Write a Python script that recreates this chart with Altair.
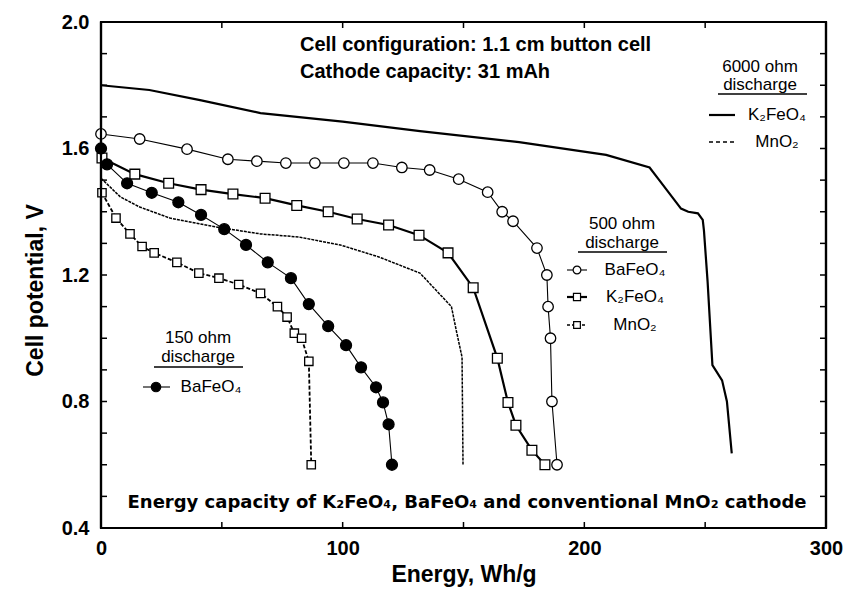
import altair as alt
import pandas as pd

# ---- discharge curves: energy (Wh/g) vs cell potential (V) ----
# 6000 ohm discharge
k6_x = [0, 20, 41, 66, 100, 132, 173, 209, 227, 231, 237, 240, 243, 247, 249, 249.5, 251, 253, 257, 259, 261]
k6_v = [1.80, 1.785, 1.753, 1.712, 1.685, 1.655, 1.62, 1.58, 1.54, 1.50, 1.44, 1.41, 1.40, 1.395, 1.374, 1.34, 1.18, 0.915, 0.867, 0.80, 0.636]

m6_x = [0, 8, 16, 28.5, 49, 66, 82, 99, 115, 132, 145, 147, 149.4, 149.8]
m6_v = [1.506, 1.447, 1.415, 1.38, 1.35, 1.33, 1.32, 1.295, 1.257, 1.206, 1.10, 1.025, 0.94, 0.60]

# 500 ohm discharge
b5_x = [0, 16, 35.6, 52.5, 64.5, 76.5, 88.5, 100.5, 112.5, 124.5, 136, 148, 160, 166, 170.5, 180.4, 184.5, 185, 186, 186.6, 188.7]
b5_v = [1.646, 1.63, 1.598, 1.566, 1.56, 1.554, 1.554, 1.554, 1.554, 1.54, 1.532, 1.503, 1.462, 1.40, 1.37, 1.285, 1.20, 1.10, 1.00, 0.80, 0.60]

k5_x = [0.4, 14, 28, 41.4, 54.6, 67.9, 81, 94, 106, 119, 131.6, 143.6, 154, 164, 168.4, 171.7, 178.3, 183.7]
k5_v = [1.57, 1.519, 1.49, 1.47, 1.456, 1.443, 1.42, 1.40, 1.377, 1.358, 1.326, 1.27, 1.16, 0.937, 0.797, 0.725, 0.646, 0.60]

m5_x = [0.4, 6.2, 12, 17, 22, 31.4, 40.5, 48.8, 57, 66, 73, 77, 80, 83, 86, 87]
m5_v = [1.46, 1.38, 1.33, 1.29, 1.27, 1.24, 1.206, 1.19, 1.17, 1.142, 1.10, 1.067, 1.016, 1.0, 0.927, 0.60]

# 150 ohm discharge
b1_x = [0, 2.5, 10.8, 21, 32, 41.4, 51, 60, 69, 78.6, 86, 94, 101.4, 107.6, 113.8, 116.7, 119, 120.4]
b1_v = [1.60, 1.55, 1.49, 1.46, 1.43, 1.39, 1.345, 1.295, 1.24, 1.19, 1.108, 1.038, 0.978, 0.908, 0.845, 0.797, 0.728, 0.60]

# axis tick positions
x_labels = [0, 100, 200, 300]
x_minor = [50, 100, 150, 200, 250]
y_labels = [0.4, 0.8, 1.2, 1.6, 2.0]
y_minor = [0.5, 0.6, 0.7, 0.8, 0.9, 1.0, 1.1, 1.2, 1.3, 1.4, 1.5, 1.6, 1.7, 1.8, 1.9]

W, H = 725, 506
FONT = "Liberation Sans"


def frame(xs, vs):
    return pd.DataFrame({"energy": xs, "potential": vs, "idx": list(range(len(xs)))})


X = alt.X("energy:Q",
          scale=alt.Scale(domain=[0, 300], nice=False, zero=False),
          axis=alt.Axis(values=x_labels, title="Energy, Wh/g", labelPadding=10,
                        titlePadding=5, labelFlush=False))
Y = alt.Y("potential:Q",
          scale=alt.Scale(domain=[0.4, 2.0], nice=False, zero=False),
          axis=alt.Axis(values=y_labels, format=".1f", title="Cell potential, V",
                        labelPadding=12, titlePadding=14, labelFlush=False, titleY=268))


def curve(xs, vs, width, dash=None, color="black"):
    props = dict(color=color, strokeWidth=width)
    if dash:
        props["strokeDash"] = dash
    return alt.Chart(frame(xs, vs)).mark_line(**props).encode(x=X, y=Y, order="idx:Q")


def markers(xs, vs, shape, size, filled):
    return alt.Chart(frame(xs, vs)).mark_point(
        shape=shape, size=size, filled=True,
        fill="black" if filled else "white", stroke="black", strokeWidth=1.3, opacity=1
    ).encode(x=X, y=Y)


layers = [
    curve(k6_x, k6_v, 2.2),
    curve(m6_x, m6_v, 1.5, [3, 1]),
    curve(b5_x, b5_v, 1.1),
    curve(k5_x, k5_v, 2.2),
    curve(m5_x, m5_v, 1.8, [4, 2]),
    curve(b1_x, b1_v, 1.1),
    markers(b5_x, b5_v, "circle", 110, False),
    markers(k5_x, k5_v, "square", 95, False),
    markers(m5_x, m5_v, "square", 70, False),
    markers(b1_x, b1_v, "circle", 120, True),
]

# inward tick marks on all four sides
tx = pd.DataFrame({"energy": x_minor})
ty = pd.DataFrame({"potential": y_minor})
layers += [
    alt.Chart(tx).mark_rule(color="black", strokeWidth=1.5).encode(x=X, y=alt.value(H), y2=alt.value(H - 6)),
    alt.Chart(tx).mark_rule(color="black", strokeWidth=1.5).encode(x=X, y=alt.value(0), y2=alt.value(6)),
    alt.Chart(ty).mark_rule(color="black", strokeWidth=1.5).encode(y=Y, x=alt.value(0), x2=alt.value(6)),
    alt.Chart(ty).mark_rule(color="black", strokeWidth=1.5).encode(y=Y, x=alt.value(W), x2=alt.value(W - 6)),
]

one = pd.DataFrame({"a": [0]})


def label(text, x, y, size=17, weight="normal", align="center", font=FONT):
    return alt.Chart(one).mark_text(
        text=text, font=font, fontSize=size, fontWeight=weight, align=align,
        baseline="middle", color="black"
    ).encode(x=alt.value(x), y=alt.value(y))


def hline(x1, x2, y, width=1.3, dash=None):
    props = dict(color="black", strokeWidth=width)
    if dash:
        props["strokeDash"] = dash
    return alt.Chart(one).mark_rule(**props).encode(x=alt.value(x1), x2=alt.value(x2), y=alt.value(y))


def vline(x, y1, y2, width=2.2):
    return alt.Chart(one).mark_rule(color="black", strokeWidth=width).encode(
        x=alt.value(x), y=alt.value(y1), y2=alt.value(y2))


def symbol(shape, x, y, size, filled):
    return alt.Chart(one).mark_point(
        shape=shape, size=size, filled=True,
        fill="black" if filled else "white", stroke="black", strokeWidth=1.2, opacity=1
    ).encode(x=alt.value(x), y=alt.value(y))


# plot frame
layers += [
    hline(-1, W + 1, 0, width=2.2),
    hline(-1, W + 1, H, width=2.2),
    vline(0, 0, H),
    vline(W, 0, H),
]

# annotations
layers += [
    label("Cell configuration: 1.1 cm button cell", 199, 23, size=20, weight="bold", align="left"),
    label("Cathode capacity: 31 mAh", 199, 50, size=20, weight="bold", align="left"),
    label("Energy capacity of K\u2082FeO\u2084, BaFeO\u2084 and conventional MnO\u2082  cathode",
          366, 481, size=18, weight="bold", font="DejaVu Sans"),
]

# 6000 ohm legend
layers += [
    label("6000 ohm", 659, 45),
    label("discharge", 659, 63),
    hline(617, 706, 72),
    hline(608, 634, 93, width=2.2),
    label("K\u2082FeO\u2084", 676, 93),
    hline(608, 634, 120, width=1.6, dash=[4, 3]),
    label("MnO\u2082", 676, 120),
]

# 500 ohm legend
layers += [
    label("500 ohm", 521, 202),
    label("discharge", 521, 221),
    hline(477, 566, 230),
    hline(466, 486, 248, width=1.1),
    symbol("circle", 476, 248, 60, False),
    label("BaFeO\u2084", 534, 248),
    hline(466, 486, 275, width=2.2),
    symbol("square", 476, 275, 50, False),
    label("K\u2082FeO\u2084", 534, 275),
    hline(466, 486, 303, width=1.6, dash=[3, 2]),
    symbol("square", 476, 303, 45, False),
    label("MnO\u2082", 534, 303),
]

# 150 ohm legend
layers += [
    label("150 ohm", 97, 316),
    label("discharge", 97, 335),
    hline(53, 142, 345),
    hline(42, 69, 365, width=1.1),
    symbol("circle", 55, 365, 90, True),
    label("BaFeO\u2084", 110, 365),
]

chart = alt.layer(*layers).properties(
    width=W, height=H,
    autosize=alt.AutoSizeParams(type="none"),
    padding={"left": 101, "top": 22, "right": 19, "bottom": 64},
    background="white",
).configure_view(
    stroke="black", strokeWidth=2.2
).configure_axis(
    domain=False, ticks=False, grid=False,
    labelFont=FONT, labelFontSize=20, labelFontWeight="bold", labelColor="black",
    titleFont=FONT, titleFontSize=23, titleFontWeight="bold", titleColor="black",
)

chart.save("out.html", embed_options={"renderer": "svg", "actions": False})
